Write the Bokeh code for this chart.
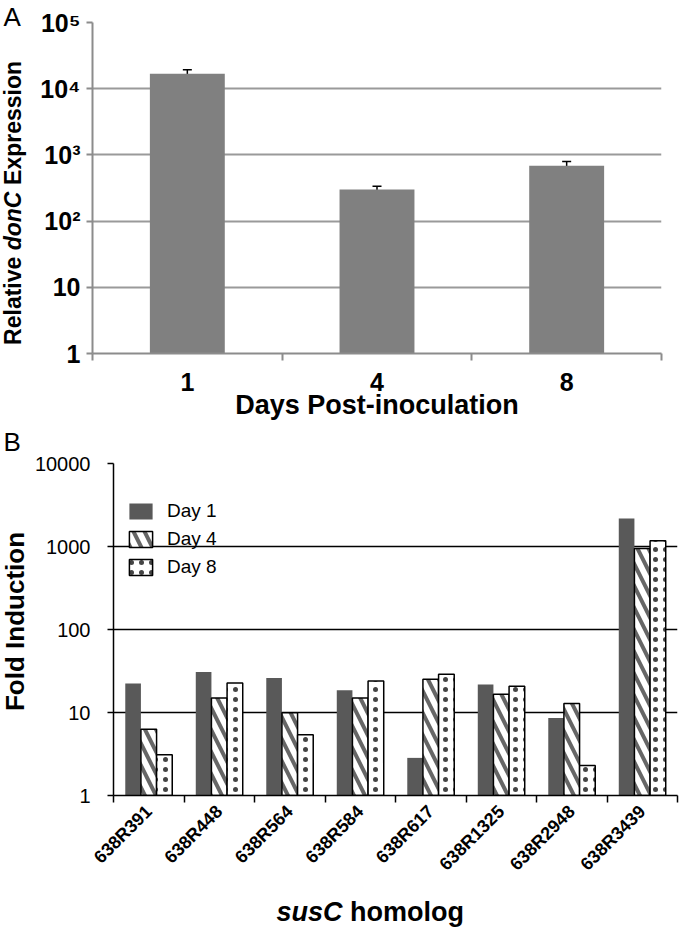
import math
from bokeh.plotting import figure
from bokeh.models import (Range1d, FixedTicker, Legend, LegendItem,
                          Whisker, TeeHead, ColumnDataSource)
from bokeh.core.properties import value
from bokeh.layouts import column, row
from bokeh.embed import file_html
from bokeh.resources import INLINE

FONT = "Liberation Sans"

# ---------------- Panel A data ----------------
a_days = ["1", "4", "8"]
a_expression = [16800, 300, 684]
a_err_low = [14100, 280, 561]
a_err_high = [19300, 337, 795]
a_yticks = [1, 10, 100, 1000, 10000, 100000]
a_ytick_labels = ["1", "10", "10\u00b2", "10\u00b3", "10\u2074", "10\u2075"]

# ---------------- Panel B data ----------------
b_homologs = ["638R391", "638R448", "638R564", "638R584",
              "638R617", "638R1325", "638R2948", "638R3439"]
b_day1 = [22.3, 30.8, 26.1, 18.6, 2.84, 21.7, 8.6, 2175]
b_day4 = [6.3, 15.0, 9.9, 15.0, 25.2, 16.6, 12.8, 946]
b_day8 = [3.1, 22.7, 5.4, 24.0, 28.9, 20.7, 2.3, 1169]
b_series = ["Day 1", "Day 4", "Day 8"]
b_yticks = [1, 10, 100, 1000, 10000]
b_ytick_labels = ["1", "10", "100", "1000", "10000"]

PAGE_W = 680
STRIP_W = 30
HA = 424
HB = 466
HS = 42


def strip(width, height, y0):
    """A bare figure whose data coordinates are page pixels (for titles)."""
    s = figure(width=width, height=height,
               x_range=Range1d(0, width), y_range=Range1d(y0 + height, y0),
               output_backend="svg", toolbar_location=None,
               x_axis_location=None, y_axis_location=None,
               min_border=0, min_border_left=0, min_border_right=0,
               min_border_top=0, min_border_bottom=0)
    s.outline_line_color = None
    s.grid.visible = False
    return s


def txt(s, x, y, text, size, style="bold", align="left",
        baseline="middle", angle=0.0):
    s.text(x=[x], y=[y], text=[text], angle=angle,
           text_font=value(FONT), text_font_style=style,
           text_font_size=size, text_align=align,
           text_baseline=baseline, text_color="black")


# ======================= Panel A =======================
nA = len(a_days)
pa = figure(width=PAGE_W - STRIP_W, height=HA, y_axis_type="log",
            x_range=Range1d(0, nA), y_range=Range1d(1, 1e5),
            output_backend="svg", toolbar_location=None,
            min_border_left=92 - STRIP_W, min_border_right=19,
            min_border_top=22, min_border_bottom=HA - 353)
pa.outline_line_color = None
pa.xgrid.visible = False
pa.ygrid.ticker = FixedTicker(ticks=a_yticks)
pa.ygrid.grid_line_color = "#9a9a9a"
pa.ygrid.grid_line_width = 2

xa_centers = [i + 0.5 for i in range(nA)]

ay = pa.yaxis[0]
ay.ticker = FixedTicker(ticks=a_yticks, minor_ticks=[])
ay.major_label_overrides = dict(zip(a_yticks, a_ytick_labels))
ay.axis_line_color = "#8c8c8c"
ay.axis_line_width = 2
ay.major_tick_line_color = "#8c8c8c"
ay.major_tick_line_width = 2
ay.major_tick_out = 6
ay.major_tick_in = 0
ay.minor_tick_line_color = None
ay.major_label_standoff = 6
ay.major_label_text_font = FONT
ay.major_label_text_font_style = "bold"
ay.major_label_text_font_size = "25px"
ay.major_label_text_color = "black"

ax = pa.xaxis[0]
ax.ticker = FixedTicker(ticks=xa_centers, minor_ticks=list(range(nA + 1)))
ax.major_label_overrides = dict(zip(xa_centers, a_days))
ax.axis_line_color = "#8c8c8c"
ax.axis_line_width = 2
ax.major_tick_line_color = None
ax.major_tick_out = 0
ax.major_tick_in = 0
ax.minor_tick_line_color = "#8c8c8c"
ax.minor_tick_line_width = 2
ax.minor_tick_out = 7
ax.minor_tick_in = 0
ax.major_label_standoff = 12
ax.major_label_text_font = FONT
ax.major_label_text_font_style = "bold"
ax.major_label_text_font_size = "25px"
ax.major_label_text_color = "black"
ax.axis_label = "Days Post-inoculation"
ax.axis_label_standoff = -4
ax.axis_label_text_font = FONT
ax.axis_label_text_font_style = "bold"
ax.axis_label_text_font_size = "27px"
ax.axis_label_text_color = "black"

pa.vbar(x=xa_centers, top=a_expression, bottom=1, width=0.395,
        fill_color="#808080", line_color=None)

err_src = ColumnDataSource(dict(x=xa_centers, lo=a_err_low, hi=a_err_high))
pa.add_layout(Whisker(source=err_src, base="x", upper="hi", lower="lo",
                      line_color="black", line_width=1.5,
                      upper_head=TeeHead(size=9, line_width=1.5, line_color="black"),
                      lower_head=TeeHead(size=9, line_width=1.5, line_color="black")))

# left strip of panel A: panel letter and mixed-style y title
la = strip(STRIP_W, HA, 0)
txt(la, 3, 16, "A", "26px", style="normal")
sA = 344.4
txt(la, 12, sA, "Relative", "23px", angle=math.pi / 2)
txt(la, 12, sA - 94.6, "donC", "23px", style="bold italic", angle=math.pi / 2)
txt(la, 12, sA - 160.0, "Expression", "23px", angle=math.pi / 2)

# ======================= Panel B =======================
nB = len(b_homologs)
pb_top = 463 - HA
pb = figure(width=PAGE_W - STRIP_W, height=HB, y_axis_type="log",
            x_range=Range1d(0, nB), y_range=Range1d(1, 1e4),
            output_backend="svg", toolbar_location=None,
            min_border_left=113 - STRIP_W, min_border_right=3,
            min_border_top=pb_top, min_border_bottom=HB - pb_top - 332)
pb.outline_line_color = None
pb.xgrid.visible = False
pb.ygrid.ticker = FixedTicker(ticks=b_yticks)
pb.ygrid.grid_line_color = "black"
pb.ygrid.grid_line_width = 1.5

xb_centers = [i + 0.5 for i in range(nB)]
bw = 0.222

by = pb.yaxis[0]
by.ticker = FixedTicker(ticks=b_yticks, minor_ticks=[])
by.major_label_overrides = dict(zip(b_yticks, b_ytick_labels))
by.axis_line_color = "black"
by.axis_line_width = 1.5
by.major_tick_line_color = "black"
by.major_tick_line_width = 1.5
by.major_tick_out = 6
by.major_tick_in = 0
by.minor_tick_line_color = None
by.major_label_standoff = 17
by.major_label_text_font = FONT
by.major_label_text_font_style = "normal"
by.major_label_text_font_size = "20px"
by.major_label_text_color = "black"

bx = pb.xaxis[0]
bx.ticker = FixedTicker(ticks=xb_centers, minor_ticks=list(range(nB + 1)))
bx.major_label_overrides = dict(zip(xb_centers, b_homologs))
bx.major_label_orientation = math.pi / 4
bx.axis_line_color = "black"
bx.axis_line_width = 1.5
bx.major_tick_line_color = None
bx.major_tick_out = 0
bx.major_tick_in = 0
bx.minor_tick_line_color = "black"
bx.minor_tick_line_width = 1.5
bx.minor_tick_out = 7
bx.minor_tick_in = 0
bx.major_label_standoff = 6
bx.major_label_text_font = FONT
bx.major_label_text_font_style = "bold"
bx.major_label_text_font_size = "18px"
bx.major_label_text_color = "black"

r1 = pb.vbar(x=[c - bw for c in xb_centers], top=b_day1, bottom=1, width=bw,
             fill_color="#595959", line_color=None)
r4 = pb.vbar(x=xb_centers, top=b_day4, bottom=1, width=bw,
             fill_color="white", hatch_pattern="left_diagonal_line",
             hatch_color="#666666", hatch_weight=4, hatch_scale=22,
             line_color="black", line_width=1.5)
r8 = pb.vbar(x=[c + bw for c in xb_centers], top=b_day8, bottom=1, width=bw,
             fill_color="white", hatch_pattern="dot",
             hatch_color="#444444", hatch_scale=10,
             line_color="black", line_width=1.5)

legend = Legend(items=[LegendItem(label=s, renderers=[r])
                       for s, r in zip(b_series, [r1, r4, r8])],
                location=(13, 217), margin=0, padding=0, spacing=6,
                glyph_width=29, glyph_height=20, label_standoff=12,
                label_text_font=FONT, label_text_font_size="19px",
                label_text_color="black",
                border_line_color=None, background_fill_alpha=0)
pb.add_layout(legend)

# left strip of panel B
lb = strip(STRIP_W, HB, HA)
txt(lb, 3, 441, "B", "26px", style="normal")
txt(lb, 14, 621, "Fold Induction", "26px", align="center", angle=math.pi / 2)

# bottom strip: mixed-style x title of panel B
sb = strip(PAGE_W, HS, HA + HB)
txt(sb, 342, 911, "susC", "27px", style="bold italic", align="right")
txt(sb, 349.5, 911, "homolog", "27px", align="left")

layout = column(row(column(la), column(pa), spacing=0),
                row(column(lb), column(pb), spacing=0),
                sb, spacing=0)
open("out.html", "w").write(file_html(layout, INLINE))
